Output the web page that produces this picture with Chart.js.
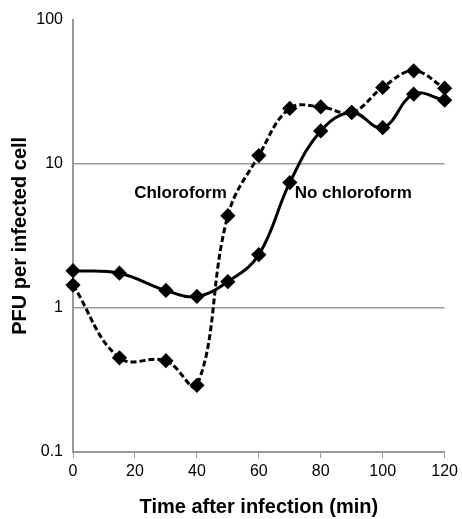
<!DOCTYPE html>
<html lang="en">
<head>
    <meta charset="UTF-8">
    <title>PFU per infected cell</title>
    <script src="https://cdn.jsdelivr.net/npm/chart.js@4.4.0/dist/chart.umd.min.js"></script>
    <style>
        body { margin: 0; background: #fff; }
        #wrap { width: 462px; height: 519px; }
    </style>
</head>
<body>
    <div id="wrap"><canvas id="myChart"></canvas></div>
    <script>
        // data
        const timesNoChl = [0, 15, 30, 40, 50, 60, 70, 80, 90, 100, 110, 120];
        const noChloroform = [1.81, 1.74, 1.32, 1.2, 1.52, 2.34, 7.4, 16.9, 22.7, 17.8, 30.4, 27.6];
        const timesChl = [0, 15, 30, 40, 50, 60, 70, 80, 90, 100, 110, 120];
        const chloroform = [1.44, 0.45, 0.43, 0.29, 4.36, 11.4, 24.2, 24.8, 22.7, 33.8, 44.1, 33.4];
        const yTicks = [0.1, 1, 10, 100];
        const seriesLabels = [
            { text: 'Chloroform', x: 34.7, y: 6.2 },
            { text: 'No chloroform', x: 90.5, y: 6.2 }
        ];

        const toPoints = (xs, ys) => xs.map((x, i) => ({ x: x, y: ys[i] }));
        const FONT = '"Liberation Sans", Arial, sans-serif';

        const labelPlugin = {
            id: 'seriesLabels',
            afterDatasetsDraw(chart) {
                const ctx = chart.ctx;
                const xs = chart.scales.x, ys = chart.scales.y;
                ctx.save();
                ctx.font = 'bold 17px ' + FONT;
                ctx.fillStyle = '#000';
                ctx.textAlign = 'center';
                ctx.textBaseline = 'middle';
                seriesLabels.forEach(l => {
                    ctx.fillText(l.text, xs.getPixelForValue(l.x), ys.getPixelForValue(l.y));
                });
                ctx.restore();
            }
        };

        const ctx = document.getElementById('myChart').getContext('2d');
        new Chart(ctx, {
            type: 'line',
            data: {
                datasets: [{
                    label: 'No chloroform',
                    data: toPoints(timesNoChl, noChloroform),
                    borderColor: '#000',
                    backgroundColor: '#000',
                    borderWidth: 3,
                    tension: 0.4,
                    pointStyle: 'rectRot',
                    pointRadius: 5.5,
                    clip: false,
                    fill: false
                }, {
                    label: 'Chloroform',
                    data: toPoints(timesChl, chloroform),
                    borderColor: '#000',
                    backgroundColor: '#000',
                    borderWidth: 3,
                    borderDash: [6, 3],
                    tension: 0.4,
                    pointStyle: 'rectRot',
                    pointRadius: 5.5,
                    clip: false,
                    fill: false
                }]
            },
            options: {
                responsive: true,
                maintainAspectRatio: false,
                animation: false,
                layout: { padding: { top: 19, right: 12, bottom: 0, left: 0 } },
                plugins: {
                    legend: { display: false },
                    tooltip: { enabled: false }
                },
                scales: {
                    x: {
                        type: 'linear',
                        min: 0,
                        max: 120,
                        ticks: {
                            stepSize: 20,
                            color: '#000',
                            font: { family: FONT, size: 16 },
                            padding: 4
                        },
                        grid: { drawOnChartArea: false, color: '#999', tickLength: 6 },
                        border: { color: '#999', width: 2 },
                        title: {
                            display: true,
                            text: 'Time after infection (min)',
                            color: '#000',
                            font: { family: FONT, size: 20, weight: 'bold' },
                            padding: { top: 4, bottom: 0 }
                        },
                        afterFit(scale) { scale.height = 67; }
                    },
                    y: {
                        type: 'logarithmic',
                        min: 0.1,
                        max: 100,
                        afterBuildTicks(scale) { scale.ticks = yTicks.map(v => ({ value: v })); },
                        ticks: {
                            color: '#000',
                            font: { family: FONT, size: 16 },
                            padding: 10,
                            callback: v => String(v)
                        },
                        grid: {
                            color: c => (c.tick && c.tick.value === 100 ? 'rgba(0,0,0,0)' : '#999'),
                            lineWidth: 1.5,
                            tickLength: 0
                        },
                        border: { color: '#999', width: 2 },
                        title: {
                            display: true,
                            text: 'PFU per infected cell',
                            color: '#000',
                            font: { family: FONT, size: 20, weight: 'bold' },
                            padding: { top: 8, bottom: 4 }
                        },
                        afterFit(scale) { scale.width = 73; }
                    }
                }
            },
            plugins: [labelPlugin]
        });
    </script>
</body>
</html>
